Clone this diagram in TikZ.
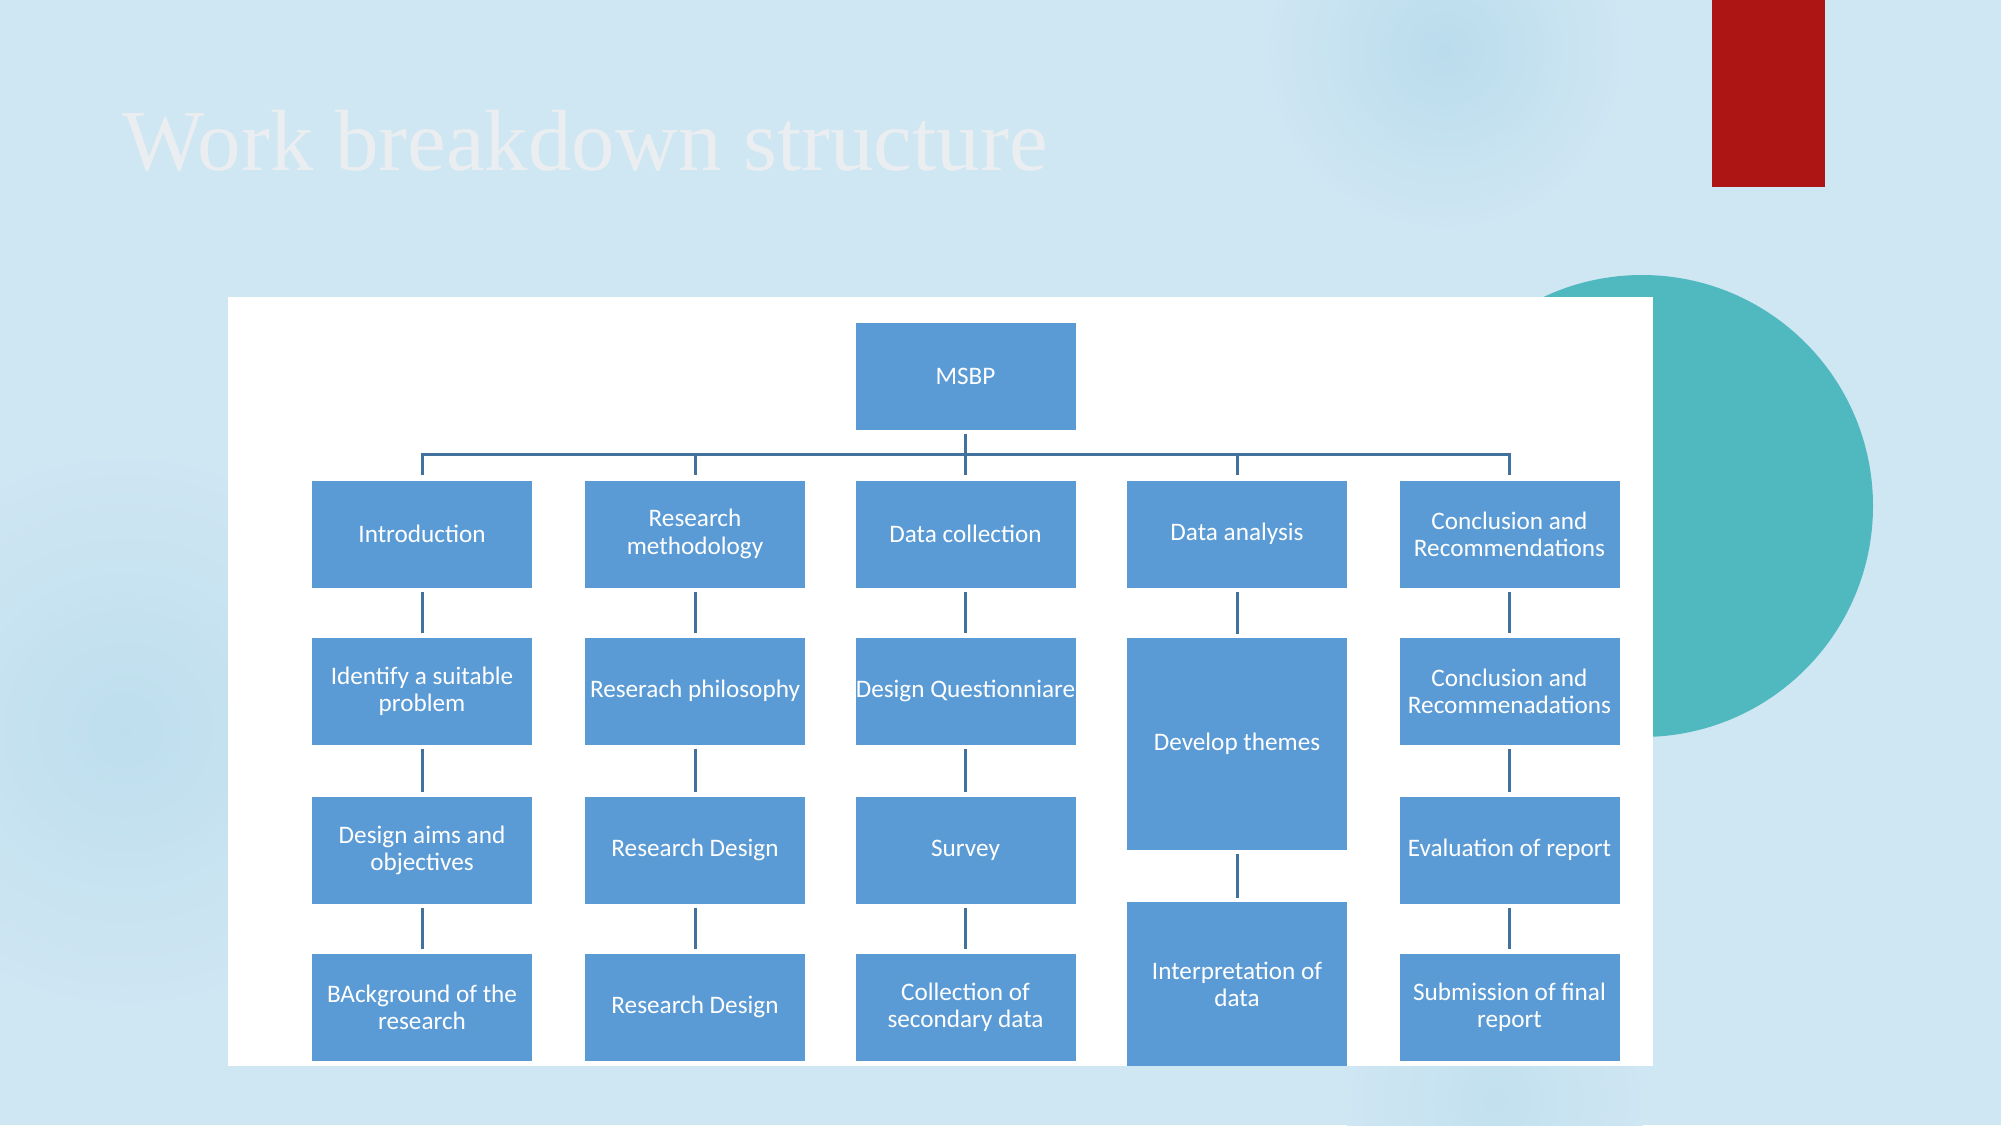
\documentclass[tikz,border=0pt]{standalone}
\usepackage{fontspec}
\setmainfont{Carlito}
\newfontfamily\titlefont{Liberation Serif}
\usetikzlibrary{calc}
\definecolor{bgblue}{HTML}{CFE6F3}
\definecolor{spotblue}{HTML}{BADCEC}
\definecolor{boxblue}{HTML}{5B9BD5}
\definecolor{linkblue}{HTML}{41719C}
\definecolor{darkred}{HTML}{AD1515}
\definecolor{teal}{HTML}{50B9BF}
\definecolor{titlegray}{HTML}{EAEEF0}
\tikzset{
  wbs/.style={rectangle, fill=boxblue, inner sep=0pt, align=center, text=white,
    minimum width=110pt, minimum height=53.5pt,
    font=\fontsize{12.6}{13.6}\selectfont},
  conn/.style={draw=linkblue, line width=1.5pt}
}
\begin{document}
\begin{tikzpicture}[x=0.5pt,y=-0.5pt]
\useasboundingbox (0,0) rectangle (2001,1125);
\fill[bgblue] (0,0) rectangle (2001,1125);
% soft background spots
\shade[inner color=spotblue, outer color=bgblue] (1445,50) circle (180);
\shade[inner color=spotblue!80!bgblue, outer color=bgblue] (125,730) circle (280);
\shade[inner color=spotblue!60!bgblue, outer color=bgblue] (1495,1100) circle (150);
% decorative shapes
\fill[darkred] (1712,0) rectangle (1825,187);
\fill[teal] (1642,506) circle (231);
% white panel
\fill[white] (228,297) rectangle (1653,1066);
% title
\node[anchor=base west, inner sep=0pt, text=titlegray, font=\titlefont\fontsize{43.5}{50}\selectfont]
  (title) at (122,170) {Work breakdown structure};
% nodes
\node[wbs] (msbp) at (965.5,376) {MSBP};
\node[wbs] (c1r1) at (422,534) {Introduction};
\node[wbs] (c2r1) at (695,534) {Research\\methodology};
\node[wbs] (c3r1) at (965.5,534) {Data collection};
\node[wbs] (c4r1) at (1237,534) {Data analysis};
\node[wbs] (c5r1) at (1509.5,534) {Conclusion and\\Recommendations};
\node[wbs] (c1r2) at (422,691) {Identify a suitable\\problem};
\node[wbs] (c2r2) at (695,691) {Reserach philosophy};
\node[wbs] (c3r2) at (965.5,691) {Design Questionniare};
\node[wbs, minimum height=106pt] (c4r2) at (1237,744) {Develop themes};
\node[wbs] (c5r2) at (1509.5,691) {Conclusion and\\Recommenadations};
\node[wbs] (c1r3) at (422,850) {Design aims and\\objectives};
\node[wbs] (c2r3) at (695,850) {Research Design};
\node[wbs] (c3r3) at (965.5,850) {Survey};
\node[wbs, minimum height=82pt] (c4r3) at (1237,984) {Interpretation of\\data};
\node[wbs] (c5r3) at (1509.5,850) {Evaluation of report};
\node[wbs] (c1r4) at (422,1007) {BAckground of the\\research};
\node[wbs] (c2r4) at (695,1007) {Research Design};
\node[wbs] (c3r4) at (965.5,1007) {Collection of\\secondary data};
\node[wbs] (c5r4) at (1509.5,1007) {Submission of final\\report};
% connectors: top level
\draw[conn] ($(c1r1.north)+(0,-5)$) |- ($(c5r1.north)+(0,-26)$) -- ($(c5r1.north)+(0,-5)$);
\draw[conn] ($(c2r1.north)+(0,-5)$) -- ($(c2r1.north)+(0,-26)$);
\draw[conn] ($(c4r1.north)+(0,-5)$) -- ($(c4r1.north)+(0,-26)$);
\draw[conn] ($(msbp.south)+(0,4)$) -- ($(c3r1.north)+(0,-5)$);
% connectors: columns
\foreach \a/\b in {c1r1/c1r2,c1r2/c1r3,c1r3/c1r4,
                   c2r1/c2r2,c2r2/c2r3,c2r3/c2r4,
                   c3r1/c3r2,c3r2/c3r3,c3r3/c3r4,
                   c4r1/c4r2,c4r2/c4r3,
                   c5r1/c5r2,c5r2/c5r3,c5r3/c5r4}
  \draw[conn] ($(\a.south)+(0,4)$) -- ($(\b.north)+(0,-4)$);
\end{tikzpicture}
\end{document}
